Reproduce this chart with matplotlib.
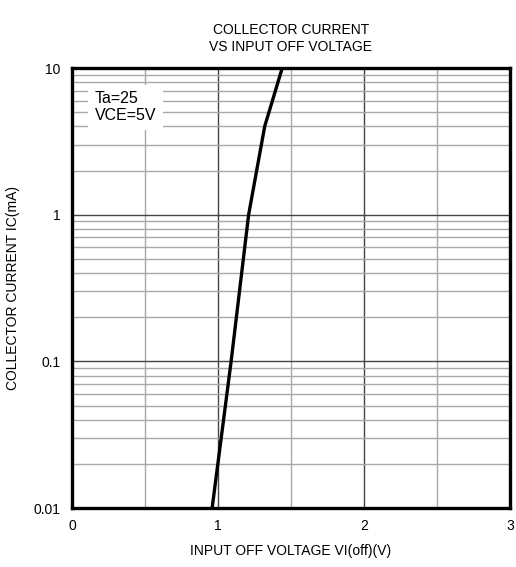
import matplotlib
matplotlib.use("Agg")
import matplotlib.pyplot as plt
from matplotlib.ticker import FixedLocator, LogLocator, NullFormatter

plt.rcParams['font.family'] = ['Liberation Sans', 'DejaVu Sans']

# curve
vi_off = [0.96, 1.09, 1.21, 1.32, 1.44]
ic_ma = [0.01, 0.1, 1.0, 4.0, 10.0]

x_ticks = [0, 1, 2, 3]
y_ticks = [0.01, 0.1, 1, 10]
y_labels = ["0.01", "0.1", "1", "10"]

fig = plt.figure(figsize=(5.16, 5.67), dpi=100)
ax = fig.add_axes([0.1395, 0.104, 0.8488, 0.776])

ax.set_xscale("linear")
ax.set_yscale("log")
ax.set_xlim(0, 3)
ax.set_ylim(0.01, 10)

# grid
ax.xaxis.set_major_locator(FixedLocator(x_ticks))
ax.xaxis.set_minor_locator(FixedLocator([0.5, 1.5, 2.5]))
ax.yaxis.set_major_locator(FixedLocator(y_ticks))
ax.yaxis.set_minor_locator(LogLocator(base=10, subs=range(2, 10)))
ax.yaxis.set_minor_formatter(NullFormatter())
ax.set_yticklabels(y_labels)
ax.grid(which="major", color="#444444", linewidth=1.0)
ax.grid(which="minor", color="#a8a8a8", linewidth=1.0)
ax.set_axisbelow(True)
ax.tick_params(which="both", length=0, labelsize=10, pad=8)

ax.plot(vi_off, ic_ma, color="black", linewidth=2.4, solid_capstyle="butt")

for s in ax.spines.values():
    s.set_linewidth(2.4)
    s.set_color("black")

ax.text(0.155, 5.4, "Ta=25\nVCE=5V", fontsize=11.5, va="center", ha="left",
        linespacing=1.15,
        bbox=dict(facecolor="white", edgecolor="none", pad=5))

ax.set_title("COLLECTOR CURRENT\nVS INPUT OFF VOLTAGE", fontsize=10, pad=12,
             linespacing=1.35)
ax.set_xlabel("INPUT OFF VOLTAGE VI(off)(V)", fontsize=10, labelpad=8)
ax.set_ylabel("COLLECTOR CURRENT IC(mA)", fontsize=10, labelpad=10)

fig.savefig("out.png", dpi=100)
